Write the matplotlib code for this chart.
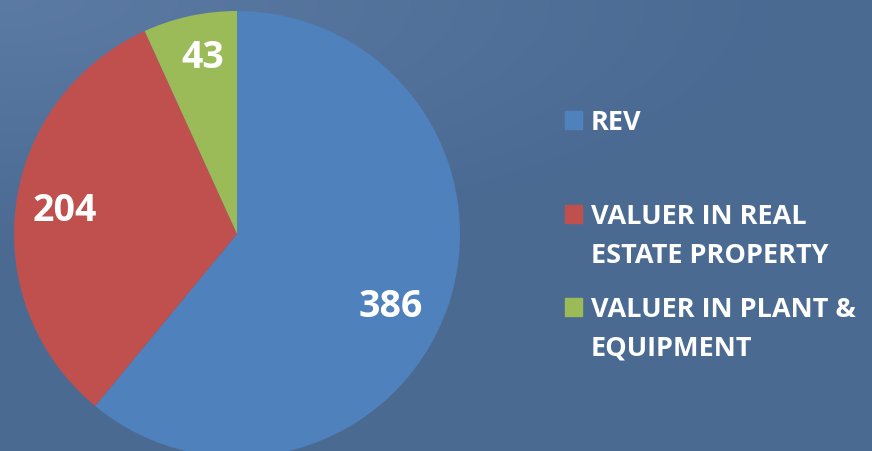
import numpy as np
import matplotlib
matplotlib.use("Agg")
from matplotlib import pyplot as plt
from matplotlib.patches import Rectangle

categories = ["REV", "VALUER IN REAL\nESTATE PROPERTY", "VALUER IN PLANT &\nEQUIPMENT"]
values = [386, 204, 43]
colors = ["#4F81BD", "#C0504D", "#9BBB59"]

W, H = 872, 452
fig = plt.figure(figsize=(W / 100, H / 100), dpi=100)

# background gradient, lighter toward top-left
bg = fig.add_axes([0, 0, 1, 1])
yy, xx = np.mgrid[0:1:200j, 0:1:400j]
d = np.clip(np.sqrt((xx * 1.0) ** 2 + (yy * 1.6) ** 2) / 0.9, 0, 1)
c0 = np.array([0.36, 0.48, 0.64])
c1 = np.array([0.294, 0.416, 0.576])
img = c0[None, None, :] * (1 - d[..., None]) + c1[None, None, :] * d[..., None]
bg.imshow(img, extent=[0, 1, 0, 1], aspect="auto", origin="upper")
bg.axis("off")

# pie: centre (237, 235) px, radius 223 px
cx, cy, r = 237, 235, 223
ax = fig.add_axes([(cx - r) / W, (H - cy - r) / H, 2 * r / W, 2 * r / H])
wedges, texts = ax.pie(values, colors=colors, startangle=90, counterclock=False,
                       radius=1, wedgeprops=dict(linewidth=0))
ax.set_xlim(-1, 1)
ax.set_ylim(-1, 1)
ax.set_aspect("equal")
ax.axis("off")

# data labels (best-fit style placement: radius, angle)
label_pos = [(0.76, -25), (0.78, 172), (0.81, 101)]
for v, (rr, a) in zip(values, label_pos):
    t = np.deg2rad(a)
    ax.text(rr * np.cos(t), rr * np.sin(t), str(v), color="white", fontsize=27,
            fontweight="bold", family="Open Sans", ha="center", va="center")

# legend, placed by hand
keys_y = [112, 206, 299]
lines_y = [[130], [224, 263], [317, 355]]
for i, lab in enumerate(categories):
    fig.patches.append(Rectangle((565 / W, 1 - (keys_y[i] + 18) / H), 17 / W, 18 / H,
                                 transform=fig.transFigure, color=colors[i], zorder=5))
    for ln, yb in zip(lab.split("\n"), lines_y[i]):
        fig.text(591 / W, 1 - yb / H, ln, color="white", fontsize=19.5, fontweight="bold",
                 family="Open Sans", va="baseline", ha="left")

fig.savefig("out.png", dpi=100)
